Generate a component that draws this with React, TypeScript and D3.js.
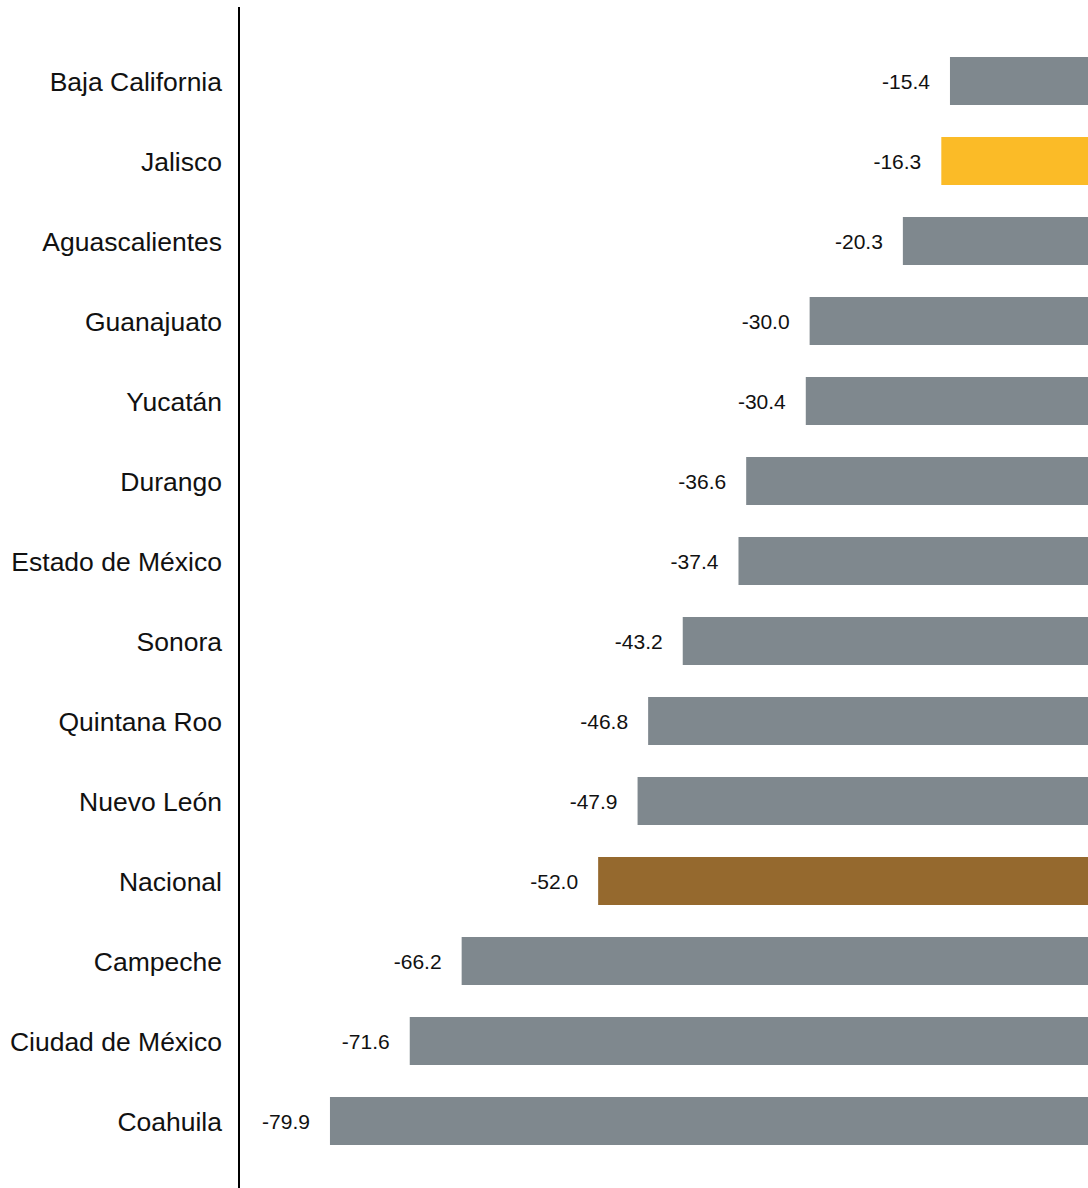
import React from "react";
import * as d3 from "d3";

const categories = [
  "Baja California",
  "Jalisco",
  "Aguascalientes",
  "Guanajuato",
  "Yucatán",
  "Durango",
  "Estado de México",
  "Sonora",
  "Quintana Roo",
  "Nuevo León",
  "Nacional",
  "Campeche",
  "Ciudad de México",
  "Coahuila",
];
const values = [-15.4, -16.3, -20.3, -30.0, -30.4, -36.6, -37.4, -43.2, -46.8, -47.9, -52.0, -66.2, -71.6, -79.9];
const highlight: Record<string, string> = { Jalisco: "#fbbb27", Nacional: "#95692e" };

const W = 1088;
const H = 1188;

export default function App() {
  const x = d3.scaleLinear().domain([-80, 0]).range([329, 1098]);
  const y = d3.scaleBand<string>().domain(categories).range([41, 1161]).paddingInner(0.4).paddingOuter(0.2);
  return (
    <svg width={W} height={H} style={{ position: "absolute", left: 0, top: 0, fontFamily: "'Liberation Sans', Arial, sans-serif" }}>
      <rect width={W} height={H} fill="#fff" />
      {categories.map((c, i) => {
        const v = values[i];
        const yy = y(c)!;
        const bw = y.bandwidth();
        return (
          <g key={c}>
            <rect x={x(v)} y={yy} width={x(0) - x(v)} height={bw} fill={highlight[c] ?? "#7f888e"} />
            <text x={x(v) - 20} y={yy + bw / 2} dy="0.37em" textAnchor="end" fontSize={21} fill="#111">
              {v.toFixed(1)}
            </text>
            <text x={222} y={yy + bw / 2} dy="0.37em" textAnchor="end" fontSize={26.5} fill="#111">
              {c}
            </text>
          </g>
        );
      })}
      <line x1={239} x2={239} y1={7} y2={H} stroke="#000" strokeWidth={2} />
    </svg>
  );
}
